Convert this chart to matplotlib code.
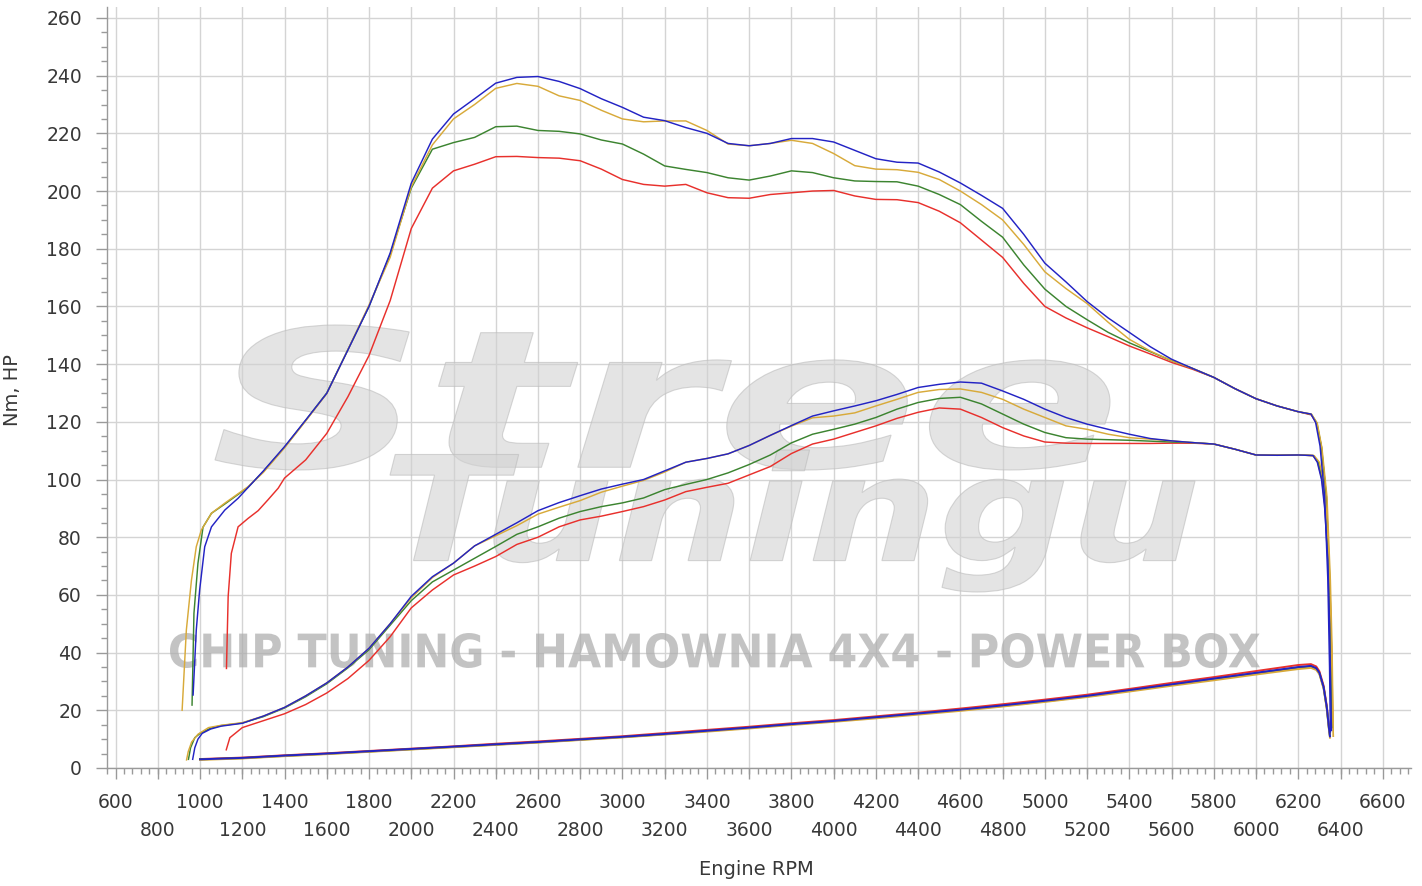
"""Dyno chart: torque / power / loss curves for four runs, StreeTuningu watermark."""

import matplotlib
matplotlib.use("Agg")
import matplotlib.pyplot as plt
from matplotlib.font_manager import FontProperties
from matplotlib.patches import PathPatch
from matplotlib.textpath import TextPath
from matplotlib.transforms import Affine2D
from matplotlib.ticker import MultipleLocator

# ── Data ──────────────────────────────────────────────────────────────────────
MID_RPM = [1300, 1400, 1500, 1600, 1700, 1800, 1900, 2000, 2100, 2200,
           2300, 2400, 2500, 2600, 2700, 2800, 2900, 3000, 3100, 3200,
           3300, 3400, 3500, 3600, 3700, 3800, 3900, 4000, 4100, 4200,
           4300, 4400, 4500, 4600, 4700, 4800, 4900, 5000, 5100, 5200,
           5300, 5400, 5500, 5600, 5700, 5800, 5900, 6000, 6100, 6200]

# Torque [Nm]
TQ_BLUE_RPM = [967, 982, 998, 1022, 1054, 1117, 1180] + MID_RPM + [6260, 6282, 6303, 6325, 6340, 6348, 6352]
TQ_BLUE = [25.3, 47.8, 61.7, 76.7, 83.6, 89.4, 93.5,
           103, 111.4, 120.6, 129.9, 144.9, 160, 178.5, 202.7, 218, 226.7,
           232, 237.4, 239.4, 239.7, 238, 235.5, 232, 229, 225.6, 224.4,
           222, 220, 216.5, 215.7, 216.5, 218.2, 218.2, 217, 214.1, 211.2,
           210, 209.7, 206.6, 202.8, 198.5, 194, 185, 175, 168.5, 161.7,
           156, 151, 146, 141.7, 138.5, 135.4, 131.5, 128, 125.5, 123.5,
           122.7, 119.8, 111.6, 94, 65, 35, 12.5]

TQ_GOLD_RPM = [915, 935, 959, 982, 1006, 1054, 1117, 1227] + MID_RPM + [6262, 6290, 6312, 6336, 6352, 6360, 6366]
TQ_GOLD = [20, 47.8, 65, 76.7, 82.5, 88.3, 91.8, 97.5,
           102.5, 111, 120.3, 129.8, 145, 160.5, 177, 201.5, 216, 225,
           230, 235.6, 237.3, 236.3, 233, 231.4, 228, 225, 224, 224.3,
           224.3, 221, 216.3, 215.7, 216.5, 217.6, 216.5, 213, 208.8, 207.6,
           207.4, 206.5, 204, 200, 195.3, 190, 181.5, 172, 166.2, 161,
           154.5, 148.6, 144.5, 141.2, 138.5, 135.4, 131.5, 128, 125.5, 123.5,
           122.7, 119.5, 111, 94, 65, 42, 11]

TQ_GREEN_RPM = [962, 971, 990, 1014, 1054, 1117, 1227] + MID_RPM + [6262, 6288, 6310, 6333, 6349, 6357, 6362]
TQ_GREEN = [21.8, 53.6, 71, 83.5, 88.3, 91.5, 97.3,
            102.8, 111.2, 120.5, 130, 145, 160, 178, 201, 214.5, 216.8,
            218.6, 222.3, 222.5, 221, 220.7, 219.8, 217.7, 216.3, 212.8, 208.7,
            207.5, 206.4, 204.6, 203.8, 205.2, 207, 206.4, 204.6, 203.5, 203.3,
            203.2, 201.7, 198.8, 195.3, 189.5, 184, 174.4, 166, 160, 155.4,
            151, 147.4, 144.3, 141.2, 138.5, 135.4, 131.5, 128, 125.5, 123.5,
            122.6, 119.6, 111.3, 94, 65, 42, 15]

TQ_RED_RPM = [1125, 1133, 1148, 1180, 1227, 1275, 1322, 1370] + MID_RPM[1:] + [6262, 6286, 6309, 6333, 6348, 6356, 6363]
TQ_RED = [34.5, 59.4, 74.4, 83.6, 86.5, 89.2, 93, 97,
          100.5, 106.8, 116, 128.7, 143, 162, 187, 201, 207,
          209.3, 211.9, 212, 211.6, 211.4, 210.5, 207.6, 204, 202.3, 201.7,
          202.3, 199.4, 197.7, 197.5, 198.8, 199.4, 200, 200.2, 198.3, 197.1,
          197, 196, 193, 189, 183, 177, 168, 160, 156, 152.6,
          149.5, 146.3, 143.5, 140.6, 138.2, 135.4, 131.5, 128, 125.5, 123.5,
          122.4, 119.5, 111.5, 94, 65, 42, 16]

# Power [HP]
PW_BLUE_RPM = [965, 975, 990, 1010, 1050, 1100, 1200] + MID_RPM + [6270, 6290, 6310, 6325, 6340, 6348, 6354, 6357]
PW_BLUE = [3, 7, 10, 12, 13.5, 14.5, 15.5,
           18, 21, 25, 29.5, 35, 41.5, 50, 59.5, 66.3, 71,
           77, 81, 85, 89.2, 92, 94.4, 96.7, 98.4, 100, 103,
           106, 107.3, 108.9, 111.8, 115.3, 118.7, 122, 123.8, 125.5, 127.3,
           129.5, 131.9, 133, 133.8, 133.4, 130.7, 127.8, 124.4, 121.5, 119.2,
           117.4, 115.7, 114.2, 113.4, 112.8, 112.3, 110.5, 108.5, 108.4, 108.5,
           108.3, 106, 100, 90, 72, 50, 25, 13]

PW_GOLD_RPM = [936, 944, 960, 990, 1040, 1100, 1200] + MID_RPM + [6275, 6300, 6318, 6332, 6346, 6355, 6362, 6366]
PW_GOLD = [2.8, 5.7, 9, 11.7, 14, 14.8, 15.7,
           18, 21, 25, 29.5, 35, 41.5, 50, 59, 66, 71,
           77, 80.5, 84, 88, 90.4, 92.7, 95.6, 97.7, 99.7, 102.6,
           106, 107.3, 108.9, 111.8, 115.3, 118.5, 121.4, 122, 123.1, 125.5,
           127.8, 130.2, 131.2, 131.4, 130.2, 127.8, 124.4, 121.5, 118.6, 117.4,
           115.7, 114.5, 114, 113.4, 112.8, 112.3, 110.5, 108.5, 108.4, 108.5,
           108.3, 106, 100, 90, 72, 50, 25, 11]

PW_GREEN_RPM = [945, 955, 975, 1000, 1050, 1100, 1200] + MID_RPM + [6272, 6295, 6314, 6328, 6343, 6351, 6358, 6362]
PW_GREEN = [3, 7, 10.5, 12, 13.8, 14.7, 15.6,
            17.8, 20.8, 24.7, 29.2, 34.7, 41, 49.5, 58, 64.5, 68.6,
            72.7, 76.8, 81, 83.6, 86.6, 88.9, 90.6, 91.9, 93.6, 96.5,
            98.3, 100, 102.3, 105.2, 108.5, 112.7, 115.7, 117.4, 119.2, 121.5,
            124.4, 126.7, 128.1, 128.5, 126.2, 122.7, 119.2, 116.3, 114.5, 114,
            113.8, 113.6, 113.3, 113, 112.8, 112.3, 110.5, 108.5, 108.4, 108.5,
            108.3, 106, 100, 90, 72, 50, 25, 14]

PW_RED_RPM = [1124, 1141, 1200] + MID_RPM + [6270, 6292, 6312, 6327, 6342, 6350, 6357, 6361]
PW_RED = [6.3, 10.5, 14,
          16.4, 18.8, 22, 26, 31, 37.3, 45.5, 55.5, 61.7, 66.9,
          70, 73.3, 77.5, 80, 83.6, 86, 87.3, 88.9, 90.6, 92.9,
          95.8, 97.3, 98.7, 101.6, 104.5, 109, 112.3, 114, 116.3, 118.6,
          121.2, 123.3, 124.8, 124.4, 121.5, 118, 115.1, 113, 112.6, 112.5,
          112.5, 112.5, 112.5, 112.6, 112.6, 112.3, 110.5, 108.5, 108.4, 108.5,
          108.3, 106, 100, 90, 72, 50, 25, 15]

# Loss curve (bottom line), shared rpm grid
LOSS_RPM = [1000, 1200, 1400, 1600, 1800, 2000, 2200, 2400, 2600, 2800,
            3000, 3200, 3400, 3600, 3800, 4000, 4200, 4400, 4600, 4800,
            5000, 5200, 5400, 5600, 5800, 6000, 6200,
            6260, 6285, 6300, 6320, 6335, 6345, 6350]
LOSS_BLUE = [3, 3.5, 4.3, 5, 5.8, 6.6, 7.4, 8.2, 9, 9.9,
             10.8, 11.8, 12.9, 14, 15.2, 16.3, 17.6, 18.9, 20.2, 21.7,
             23.3, 25, 27, 29, 31, 33, 35,
             35.4, 34.6, 33, 28, 21, 14, 11]
LOSS_GOLD = [2.8, 3.3, 4.1, 4.8, 5.6, 6.4, 7.2, 8.0, 8.8, 9.7,
             10.6, 11.6, 12.6, 13.7, 14.9, 16.0, 17.2, 18.5, 19.8, 21.3,
             22.9, 24.6, 26.5, 28.5, 30.4, 32.4, 34.3,
             34.7, 34.0, 32.5, 27.5, 20.5, 13.5, 10.5]
LOSS_GREEN = [3, 3.4, 4.2, 4.9, 5.7, 6.5, 7.3, 8.1, 8.9, 9.8,
              10.7, 11.7, 12.8, 13.9, 15.1, 16.2, 17.5, 18.8, 20.1, 21.5,
              23.1, 24.8, 26.8, 28.8, 30.8, 32.8, 34.8,
              35.2, 34.4, 32.8, 27.8, 20.8, 13.8, 11]
LOSS_RED = [3.1, 3.6, 4.4, 5.1, 5.9, 6.7, 7.5, 8.4, 9.2, 10.1,
            11.0, 12.1, 13.2, 14.3, 15.5, 16.6, 17.9, 19.2, 20.6, 22.1,
            23.7, 25.4, 27.4, 29.5, 31.5, 33.6, 35.7,
            36.0, 35.2, 33.5, 28.5, 21.5, 14.5, 12]

# Staggered x tick labels: upper row and lower row
XTICKS_UPPER = [600, 1000, 1400, 1800, 2200, 2600, 3000, 3400, 3800, 4200, 4600, 5000, 5400, 5800, 6200, 6600]
XTICKS_LOWER = [800, 1200, 1600, 2000, 2400, 2800, 3200, 3600, 4000, 4400, 4800, 5200, 5600, 6000, 6400]

COLOURS = {"red": "#e8302c", "green": "#3c8430", "gold": "#d8aa3a", "blue": "#2323c4"}
TEXT_COLOUR = "#383838"
AXIS_GREY = "#9a9a9a"
GRID_GREY = "#d4d4d4"


def fitted_text(fig, ax, text, box_px, prop, **kw):
    """Draw *text* as a path stretched to fill a box given in image pixels (y from top)."""
    x0, y0, x1, y1 = box_px
    W, H = fig.get_size_inches() * fig.dpi
    path = TextPath((0, 0), text, size=100, prop=prop)
    bb = path.get_extents()
    tr = (Affine2D().translate(-bb.x0, -bb.y0)
          .scale((x1 - x0) / bb.width / W, (y1 - y0) / bb.height / H)
          .translate(x0 / W, 1 - y1 / H))
    ax.add_patch(PathPatch(tr.transform_path(path), transform=fig.transFigure, **kw))


fig = plt.figure(figsize=(14.22, 8.86), dpi=100)
ax = fig.add_axes([0.0752, 0.1332, 0.9174, 0.8589])

# Watermarks
logo_font = FontProperties(family="DejaVu Sans", weight="bold", style="italic")
fitted_text(fig, ax, "Stree", (215, 325, 1110, 470), logo_font,
            facecolor="#d2d2d2", edgecolor="#bcbcbc", lw=0.8, alpha=0.6, zorder=1.5)
fitted_text(fig, ax, "Tuningu", (390, 450, 1195, 592), logo_font,
            facecolor="#d2d2d2", edgecolor="#bcbcbc", lw=0.8, alpha=0.6, zorder=1.5)
fitted_text(fig, ax, "CHIP TUNING - HAMOWNIA 4X4 - POWER BOX", (170, 633, 1260, 668),
            FontProperties(family="DejaVu Sans", weight="bold"),
            facecolor="#adadad", edgecolor="none", alpha=0.72, zorder=1.5)

series = [
    ("red", TQ_RED_RPM, TQ_RED, PW_RED_RPM, PW_RED, LOSS_RED),
    ("green", TQ_GREEN_RPM, TQ_GREEN, PW_GREEN_RPM, PW_GREEN, LOSS_GREEN),
    ("gold", TQ_GOLD_RPM, TQ_GOLD, PW_GOLD_RPM, PW_GOLD, LOSS_GOLD),
    ("blue", TQ_BLUE_RPM, TQ_BLUE, PW_BLUE_RPM, PW_BLUE, LOSS_BLUE),
]
for name, tq_x, tq_y, pw_x, pw_y, loss in series:
    c = COLOURS[name]
    ax.plot(tq_x, tq_y, color=c, lw=1.05, zorder=3)
    ax.plot(pw_x, pw_y, color=c, lw=1.05, zorder=3)
    ax.plot(LOSS_RPM, loss, color=c, lw=1.4, zorder=3)

# Axes, ticks, grid
ax.set_xlim(559, 6736)
ax.set_ylim(0, 263.8)
for side in ("top", "right"):
    ax.spines[side].set_visible(False)
for side in ("left", "bottom"):
    ax.spines[side].set_color(AXIS_GREY)
    ax.spines[side].set_linewidth(1.0)

ax.set_xticks(XTICKS_UPPER)
ax.xaxis.set_minor_locator(MultipleLocator(40))
ax.yaxis.set_major_locator(MultipleLocator(20))
ax.yaxis.set_minor_locator(MultipleLocator(5))
ax.tick_params(which="major", length=8, width=1, color=AXIS_GREY,
               labelsize=13.5, labelcolor=TEXT_COLOUR, pad=10)
ax.tick_params(which="minor", length=4, width=1, color=AXIS_GREY)

# Second row of x labels on a secondary axis sharing the same scale
sec = ax.secondary_xaxis("bottom")
sec.set_xticks(XTICKS_LOWER)
sec.spines["bottom"].set_visible(False)
sec.tick_params(which="major", length=8, width=1, color=AXIS_GREY,
                labelsize=13.5, labelcolor=TEXT_COLOUR, pad=30.5)
sec.xaxis.set_minor_locator(MultipleLocator(1e6))

# Vertical grid every 200 rpm, horizontal every 20
ax.grid(True, axis="y", which="major", color=GRID_GREY, lw=1.0)
for xv in XTICKS_UPPER + XTICKS_LOWER:
    ax.axvline(xv, color=GRID_GREY, lw=1.0, zorder=0.6)
ax.set_axisbelow(True)

ax.set_xlabel("Engine RPM", fontsize=14, color=TEXT_COLOUR)
ax.set_ylabel("Nm, HP", fontsize=14, color=TEXT_COLOUR)
ax.xaxis.set_label_coords(0.498, -0.121)
ax.yaxis.set_label_coords(-0.065, 0.497)

fig.savefig("out.png", dpi=100, facecolor="white")
